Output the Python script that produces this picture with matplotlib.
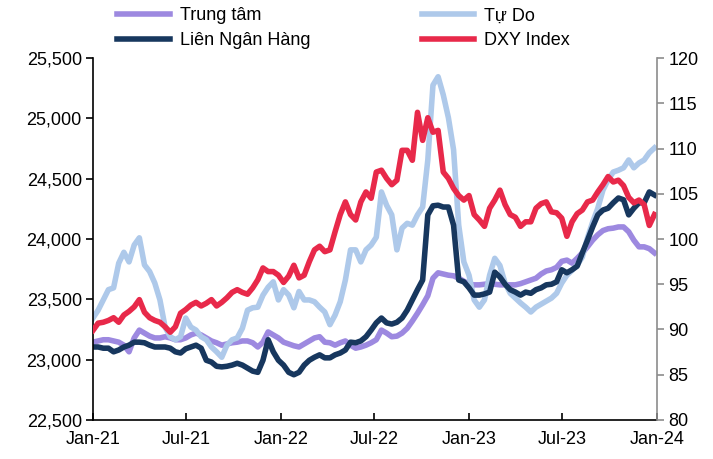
import numpy as np
import pandas as pd
import matplotlib
matplotlib.use('Agg')
import matplotlib.pyplot as plt
import matplotlib.dates as mdates

plt.rcParams['font.family'] = ['Liberation Sans', 'DejaVu Sans']

# =============================================================================
# Data (10-day sampling, Jan-21 -> Dec-23)
# =============================================================================
dates = pd.date_range('2021-01-01', periods=110, freq='10D')

tu_do = [23345, 23410, 23495, 23580, 23595, 23800, 23890, 23810, 23950, 24010,
         23785, 23730, 23635, 23495, 23270, 23190, 23165, 23190, 23345, 23270,
         23245, 23190, 23165, 23105, 23065, 23020, 23120, 23165, 23180, 23260,
         23410, 23430, 23435, 23535, 23600, 23645, 23495, 23580, 23535, 23430,
         23565, 23495, 23495, 23480, 23435, 23395, 23290, 23370, 23480, 23660,
         23910, 23910, 23810, 23910, 23950, 24015, 24390, 24280, 24200, 23910,
         24090, 24130, 24115, 24200, 24265, 24655, 25275, 25345, 25195, 25005,
         24740, 24115, 23810, 23700, 23495, 23435, 23495, 23700, 23840, 23780,
         23635, 23550, 23510, 23470, 23435, 23395, 23435, 23460, 23485, 23510,
         23550, 23635, 23700, 23740, 23785, 23850, 24010, 24140, 24255, 24405,
         24490, 24555, 24570, 24590, 24655, 24590, 24630, 24655, 24715, 24755]

lien_ngan_hang = [23105, 23105, 23095, 23095, 23065, 23080, 23105, 23120, 23145, 23145,
                  23140, 23120, 23105, 23105, 23105, 23095, 23065, 23055, 23090, 23105,
                  23120, 23095, 22995, 22980, 22945, 22940, 22945, 22955, 22970, 22955,
                  22930, 22905, 22895, 22995, 23165, 23065, 22995, 22955, 22895, 22875,
                  22895, 22955, 22995, 23020, 23040, 23015, 23015, 23040, 23055, 23080,
                  23145, 23140, 23155, 23190, 23245, 23305, 23345, 23305, 23295, 23310,
                  23345, 23410, 23495, 23580, 23660, 24200, 24275, 24280, 24265, 24265,
                  24115, 23660, 23645, 23595, 23535, 23535, 23545, 23560, 23725, 23685,
                  23625, 23580, 23560, 23535, 23560, 23550, 23580, 23595, 23620, 23625,
                  23645, 23745, 23720, 23745, 23775, 23885, 23990, 24100, 24200, 24240,
                  24255, 24300, 24340, 24325, 24200, 24255, 24300, 24300, 24390, 24365]

trung_tam = [23145, 23155, 23165, 23165, 23155, 23145, 23120, 23065, 23180, 23245,
             23220, 23195, 23180, 23180, 23190, 23180, 23165, 23165, 23180, 23205,
             23220, 23205, 23180, 23155, 23140, 23120, 23130, 23140, 23145, 23155,
             23155, 23140, 23105, 23145, 23230, 23205, 23180, 23145, 23130, 23115,
             23105, 23130, 23155, 23180, 23190, 23145, 23140, 23120, 23140, 23155,
             23120, 23095, 23105, 23120, 23140, 23165, 23245, 23220, 23190, 23195,
             23220, 23260, 23320, 23385, 23455, 23530, 23675, 23720, 23710, 23700,
             23695, 23675, 23650, 23625, 23620, 23620, 23625, 23630, 23625, 23620,
             23620, 23620, 23620, 23630, 23645, 23660, 23675, 23710, 23735, 23745,
             23765, 23815, 23825, 23800, 23840, 23885, 23935, 23990, 24035, 24070,
             24085, 24090, 24100, 24100, 24060, 23990, 23935, 23935, 23920, 23885]

dxy = [89.9, 90.7, 90.8, 91.0, 91.3, 90.8, 91.6, 92.0, 92.5, 93.3,
       91.9, 91.3, 91.0, 90.8, 90.3, 89.7, 90.3, 91.8, 92.2, 92.7,
       93.0, 92.6, 92.9, 93.3, 92.6, 93.0, 93.5, 94.1, 94.4, 94.1,
       93.9, 94.6, 95.5, 96.8, 96.4, 96.4, 96.0, 95.2, 95.9, 97.1,
       95.7, 96.0, 97.5, 98.8, 99.2, 98.6, 98.8, 100.8, 102.7, 104.1,
       102.7, 102.1, 104.1, 105.2, 104.5, 107.4, 107.6, 106.7, 106.0, 106.5,
       109.8, 109.8, 108.7, 114.0, 110.9, 113.4, 111.8, 112.0, 107.4, 106.7,
       105.6, 104.8, 104.3, 104.8, 102.7, 102.1, 101.4, 103.4, 104.3, 105.4,
       103.8, 102.7, 102.4, 101.4, 101.9, 101.9, 103.4, 103.9, 104.1, 103.0,
       102.9, 102.3, 100.3, 101.9, 102.8, 103.2, 104.1, 104.3, 105.2, 106.0,
       106.9, 106.3, 106.5, 105.9, 104.6, 104.0, 104.3, 103.8, 101.5, 102.7]

# =============================================================================
# Plot
# =============================================================================
c_tt = '#9d89e0'
c_td = '#aec9ea'
c_lnh = '#17375e'
c_dxy = '#e8294a'
lw = 4.0

fig = plt.figure(figsize=(7.13, 4.59), dpi=100)
ax = fig.add_axes([0.1304, 0.085, 0.7911, 0.7886])
ax2 = ax.twinx()

l1, = ax.plot(dates, trung_tam, color=c_tt, lw=lw, label='Trung tâm')
l2, = ax.plot(dates, tu_do, color=c_td, lw=lw, label='Tự Do')
l3, = ax.plot(dates, lien_ngan_hang, color=c_lnh, lw=lw, label='Liên Ngân Hàng')
l4, = ax2.plot(dates, dxy, color=c_dxy, lw=lw, label='DXY Index')

ax.set_ylim(22500, 25500)
ax.set_yticks(np.arange(22500, 25501, 500))
ax.yaxis.set_major_formatter(matplotlib.ticker.FuncFormatter(lambda v, p: '{:,.0f}'.format(v)))
ax2.set_ylim(80, 120)
ax2.set_yticks(np.arange(80, 121, 5))

ax.set_xlim(pd.Timestamp('2021-01-01'), pd.Timestamp('2024-01-01'))
ax.xaxis.set_major_locator(mdates.MonthLocator(bymonth=[1, 7]))
ax.xaxis.set_major_formatter(mdates.DateFormatter('%b-%y'))

for a in (ax, ax2):
    a.spines['top'].set_visible(False)
ax.spines['right'].set_visible(False)
ax2.spines['left'].set_visible(False)
ax2.spines['bottom'].set_visible(False)
ax.spines['left'].set_linewidth(1.2)
ax.spines['bottom'].set_linewidth(1.2)
ax2.spines['right'].set_color('#8c8c8c')
ax2.spines['right'].set_linewidth(1.2)

ax.tick_params(axis='x', direction='in', length=5, width=1.2, labelsize=13, pad=8)
ax.tick_params(axis='y', direction='out', length=5, width=1.2, labelsize=13, pad=3)
ax2.tick_params(axis='y', direction='out', length=5, width=1.2, color='#8c8c8c',
                labelsize=13, pad=3)

fig.legend(handles=[l1, l3, l2, l4], ncol=2, loc='upper left',
           bbox_to_anchor=(0.162, 0.988), frameon=False, fontsize=13,
           handlelength=2.9, handletextpad=0.55, columnspacing=6.2,
           labelspacing=0.45, borderpad=0.1, borderaxespad=0)

fig.savefig('out.png', dpi=100)
